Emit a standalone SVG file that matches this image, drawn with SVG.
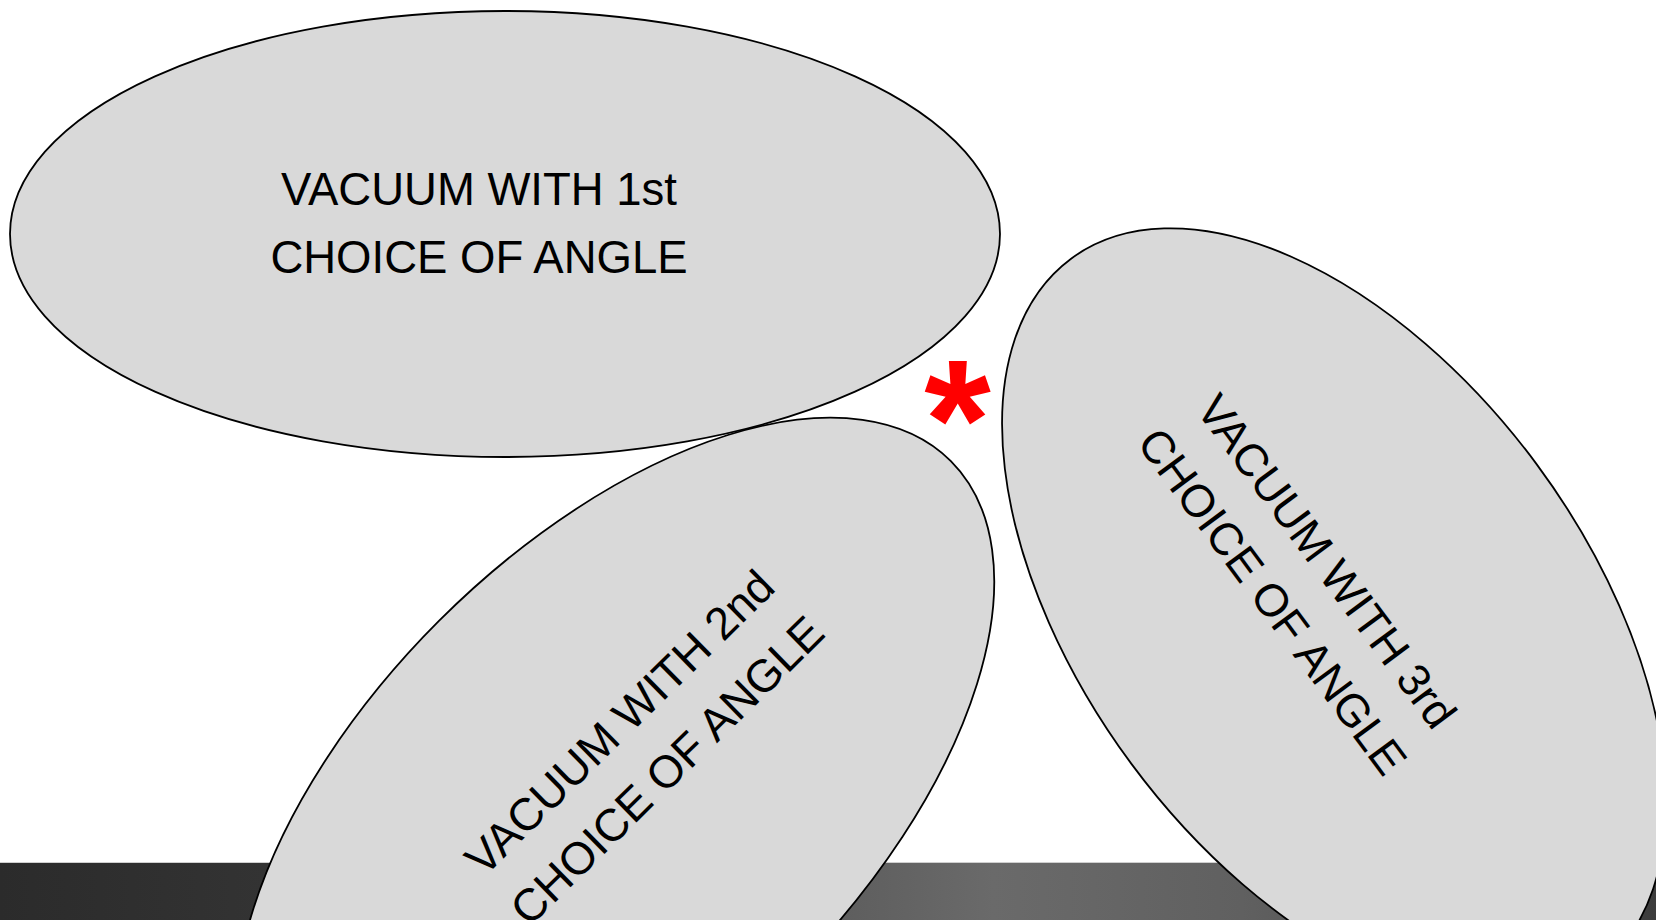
<svg xmlns="http://www.w3.org/2000/svg" width="1656" height="920" viewBox="0 0 1656 920">
<defs>
<style>
.shape{fill:#d9d9d9;stroke:#000;stroke-width:1.8}
.lbl{font-family:"Liberation Sans",Arial,sans-serif;font-size:45.5px;fill:#000;text-anchor:middle}
.star{font-family:"Liberation Sans",Arial,sans-serif;font-weight:bold;font-size:171px;fill:#ff0000;text-anchor:middle}
</style>
<linearGradient id="band" x1="0" y1="0" x2="1656" y2="0" gradientUnits="userSpaceOnUse">
<stop offset="0" stop-color="#2b2b2b"/>
<stop offset="0.2" stop-color="#353535"/>
<stop offset="0.6" stop-color="#6a6a6a"/>
<stop offset="0.75" stop-color="#606060"/>
<stop offset="1" stop-color="#3c3c3c"/>
</linearGradient>
</defs>
<rect x="0" y="0" width="1656" height="920" fill="#ffffff"/>
<rect x="0" y="862" width="1656" height="58" fill="url(#band)"/>
<line x1="0" y1="862.5" x2="1656" y2="862.5" stroke="#cfcfcf" stroke-width="1"/>
<g id="node1">
<ellipse class="shape" cx="505" cy="234" rx="495" ry="223"/>
<text class="lbl" x="479" y="205">VACUUM WITH 1st</text>
<text class="lbl" x="479" y="273">CHOICE OF ANGLE</text>
</g>
<g id="node2">
<ellipse class="shape" cx="615" cy="797" rx="475" ry="249" transform="rotate(-45 615 797)"/>
<g transform="translate(643 746) rotate(-44.5)">
<text class="lbl" x="0" y="-17.5">VACUUM WITH 2nd</text>
<text class="lbl" x="0" y="50">CHOICE OF ANGLE</text>
</g>
</g>
<g id="node3">
<ellipse class="shape" cx="1334" cy="614" rx="442" ry="252" transform="rotate(53.5 1334 614)"/>
<g transform="translate(1300 581) rotate(53.5)">
<text class="lbl" x="0" y="-17.5">VACUUM WITH 3rd</text>
<text class="lbl" x="0" y="50">CHOICE OF ANGLE</text>
</g>
</g>
<g id="marker">
<text class="star" x="957.5" y="478.5">*</text>
</g>
<g id="connectors"/>
</svg>
